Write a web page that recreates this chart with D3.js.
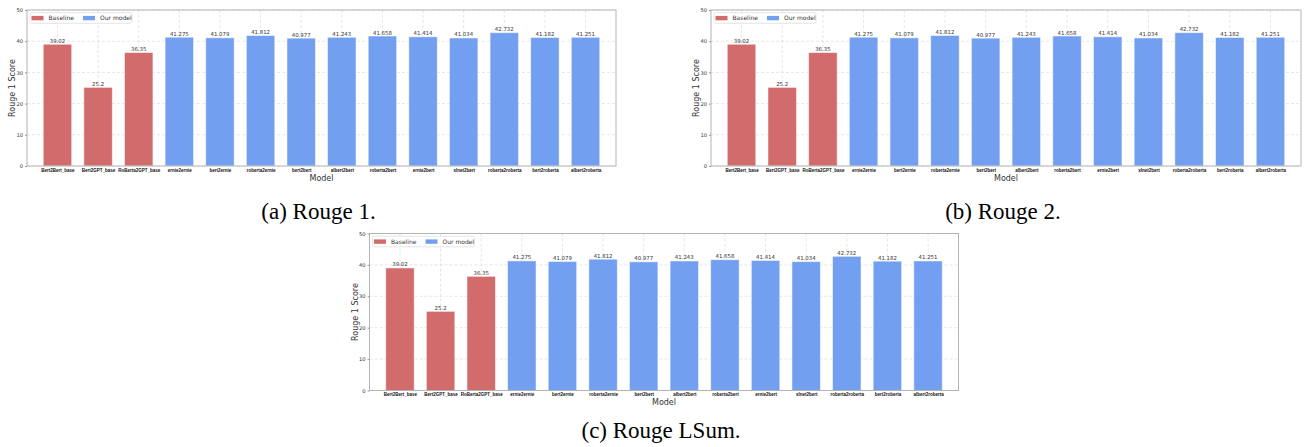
<html lang="en">
<head>
<meta charset="utf-8">
<script src="https://cdn.jsdelivr.net/npm/d3@7"></script>
<style>
body{margin:0;background:#fff;}
svg{display:block;}
</style>
</head>
<body>
<div id="drawarea"></div>
<script>
// data (all three panels show the same numbers)
const models=["Bert2Bert_base","Bert2GPT_base","RoBerta2GPT_base","ernie2ernie","bert2ernie","roberta2ernie","bert2bert","albert2bert","roberta2bert","ernie2bert","xlnet2bert","roberta2roberta","bert2roberta","albert2roberta"]
const groups=["Baseline","Baseline","Baseline","Our model","Our model","Our model","Our model","Our model","Our model","Our model","Our model","Our model","Our model","Our model"]
const rouge1Scores=[39.02,25.2,36.35,41.275,41.079,41.812,40.977,41.243,41.658,41.414,41.034,42.732,41.182,41.251]
const rouge2Scores=[39.02,25.2,36.35,41.275,41.079,41.812,40.977,41.243,41.658,41.414,41.034,42.732,41.182,41.251]
const rougeLSumScores=[39.02,25.2,36.35,41.275,41.079,41.812,40.977,41.243,41.658,41.414,41.034,42.732,41.182,41.251]
const valueLabels=["39.02","25.2","36.35","41.275","41.079","41.812","40.977","41.243","41.658","41.414","41.034","42.732","41.182","41.251"]
const yTicks=[0,10,20,30,40,50]
const legendNames=["Baseline","Our model"]
const captions=["(a) Rouge 1.","(b) Rouge 2.","(c) Rouge LSum."]

const W=1309,H=447
const colors={"Baseline":"#d26c6c","Our model":"#739ff0"}

const svg=d3.select("#drawarea").append("svg").attr("width",W).attr("height",H)

// panel frames (left, top, width, height) and caption baselines
const panels=[
 {x:27,y:10,w:589,h:156,scores:rouge1Scores,cap:captions[0],capY:219},
 {x:711,y:10,w:590,h:156,scores:rouge2Scores,cap:captions[1],capY:219},
 {x:369.5,y:233.5,w:589,h:157,scores:rougeLSumScores,cap:captions[2],capY:438}
]

panels.forEach(p=>drawPanel(p))

function drawPanel(p){
const g=svg.append("g").attr("transform","translate("+p.x+","+p.y+")")
const x=d3.scaleLinear().domain([-0.75,models.length-0.25]).range([0,p.w])
const y=d3.scaleLinear().domain([0,50]).range([p.h,0])
const bw=x(0.7)-x(0)

// grid
g.selectAll(".hg").data(yTicks).join("line").attr("class","hg")
 .attr("x1",0).attr("x2",p.w).attr("y1",d=>y(d)).attr("y2",d=>y(d))
 .attr("stroke","#dcdcdc").attr("stroke-width",0.7).attr("stroke-dasharray","3,2")
g.selectAll(".vg").data(models).join("line").attr("class","vg")
 .attr("x1",(d,i)=>x(i)).attr("x2",(d,i)=>x(i)).attr("y1",0).attr("y2",p.h)
 .attr("stroke","#dcdcdc").attr("stroke-width",0.7).attr("stroke-dasharray","3,2")

// bars
g.selectAll(".bar").data(p.scores).join("rect").attr("class","bar")
 .attr("x",(d,i)=>x(i)-bw/2).attr("width",bw)
 .attr("y",d=>y(d)).attr("height",d=>y(0)-y(d))
 .attr("fill",(d,i)=>colors[groups[i]])
 .attr("stroke","#ffffff").attr("stroke-opacity",0.55).attr("stroke-width",0.9)

// value labels
g.selectAll(".val").data(p.scores).join("text").attr("class","val")
 .attr("x",(d,i)=>x(i)).attr("y",d=>y(d)-1.5)
 .attr("text-anchor","middle").style("font-family","DejaVu Sans").style("font-size","5.4px").style("fill","#333")
 .text((d,i)=>valueLabels[i])

// frame
g.append("rect").attr("width",p.w).attr("height",p.h).attr("fill","none").attr("stroke","#b4b4b4").attr("stroke-width",1)

// y axis
const ya=g.append("g").call(d3.axisLeft(y).tickValues(yTicks).tickSize(2).tickPadding(2))
ya.select(".domain").remove()
ya.selectAll("line").attr("stroke","#999")
ya.selectAll("text").style("font-family","DejaVu Sans").style("font-size","5.2px").style("fill","#333")

// x axis labels
const xa=g.append("g").attr("transform","translate(0,"+p.h+")")
 .call(d3.axisBottom(x).tickValues(d3.range(models.length)).tickFormat(i=>models[i]).tickSize(0).tickPadding(2.5))
xa.select(".domain").remove()
xa.selectAll("text").style("font-family","Liberation Sans").style("font-weight","bold").style("font-size","4.5px").style("fill","#111")

// axis titles
g.append("text").attr("x",p.w/2).attr("y",p.h+14.5).attr("text-anchor","middle")
 .style("font-family","DejaVu Sans").style("font-size","8px").style("fill","#333").text("Model")
g.append("text").attr("transform","translate("+(-12)+","+(p.h/2)+") rotate(-90)").attr("text-anchor","middle")
 .style("font-family","DejaVu Sans").style("font-size","8px").style("fill","#333").text("Rouge 1 Score")

// legend
const lg=g.append("g").attr("transform","translate(3,2.7)")
lg.append("rect").attr("width",102).attr("height",10.6).attr("rx",1.5).attr("fill","#fff").attr("fill-opacity",0.85).attr("stroke","#dadada").attr("stroke-width",0.7)
const items=lg.selectAll(".li").data(legendNames).join("g").attr("class","li")
 .attr("transform",(d,i)=>"translate("+(i==0?1.5:53)+",0)")
items.append("rect").attr("y",3.2).attr("width",12).attr("height",4.4).attr("fill",d=>colors[d])
items.append("text").attr("x",17).attr("y",7.4).style("font-family","DejaVu Sans").style("font-size","6px").style("fill","#333").text(d=>d)

// caption
svg.append("text").attr("x",p.x+p.w/2-3).attr("y",p.capY).attr("text-anchor","middle")
 .style("font-family","Liberation Serif").style("font-size","23px").style("fill","#000").text(p.cap)
}
</script>
</body>
</html>
